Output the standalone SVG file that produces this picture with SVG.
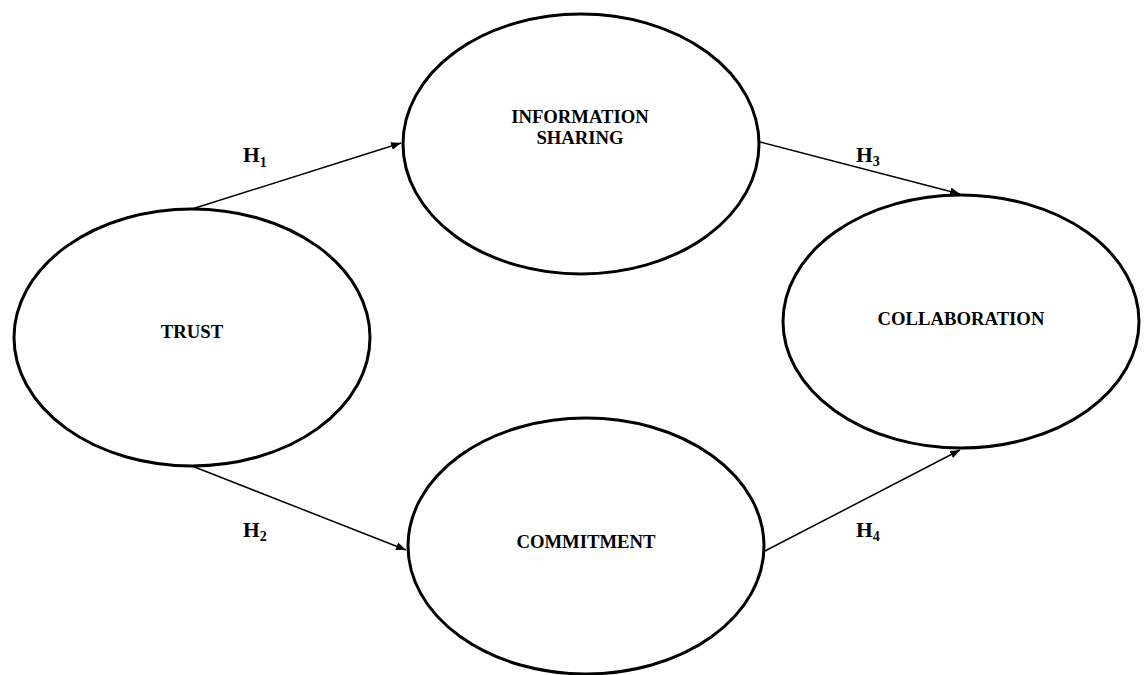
<svg xmlns="http://www.w3.org/2000/svg" width="1147" height="675" viewBox="0 0 1147 675">
  <style>
    .node ellipse { fill: #ffffff; stroke: #000000; stroke-width: 3; }
    .label { font-family: "Liberation Serif", "Times New Roman", serif; font-weight: bold; font-size: 18.7px; fill: #000000; text-anchor: middle; }
    .edge { stroke: #000000; stroke-width: 1.5; fill: none; marker-end: url(#arrow); }
    .hyp { font-family: "Liberation Serif", "Times New Roman", serif; font-weight: bold; font-size: 21.5px; fill: #000000; }
    .sub { font-size: 14px; }
  </style>
  <defs>
    <marker id="arrow" viewBox="0 0 10 8" refX="10" refY="4" markerWidth="10" markerHeight="8" markerUnits="userSpaceOnUse" orient="auto">
      <path d="M0,0 L10,4 L0,8 Z" fill="#000000"/>
    </marker>
  </defs>
  <rect width="1147" height="675" fill="#ffffff"/>

  <!-- connectors with hypothesis labels -->
  <g id="connectors">
    <line class="edge" x1="192" y1="209" x2="401" y2="143"/>
    <line class="edge" x1="760" y1="142" x2="960" y2="194"/>
    <line class="edge" x1="192" y1="466" x2="406" y2="550"/>
    <line class="edge" x1="763" y1="552" x2="960" y2="450"/>
    <text class="hyp" x="243" y="162">H<tspan class="sub" dy="5">1</tspan></text>
    <text class="hyp" x="856" y="162">H<tspan class="sub" dy="4">3</tspan></text>
    <text class="hyp" x="243" y="537">H<tspan class="sub" dy="4">2</tspan></text>
    <text class="hyp" x="856" y="537">H<tspan class="sub" dy="4">4</tspan></text>
  </g>

  <g id="trust" class="node">
    <ellipse cx="192" cy="337.5" rx="178" ry="128.5"/>
    <text class="label" x="192" y="338">TRUST</text>
  </g>

  <g id="information-sharing" class="node">
    <ellipse cx="581" cy="144" rx="178" ry="130"/>
    <text class="label" x="580" y="123">INFORMATION</text>
    <text class="label" x="580" y="144">SHARING</text>
  </g>

  <g id="collaboration" class="node">
    <ellipse cx="961" cy="321.5" rx="178" ry="126.5"/>
    <text class="label" x="961" y="325">COLLABORATION</text>
  </g>

  <g id="commitment" class="node">
    <ellipse cx="586" cy="546" rx="178" ry="128"/>
    <text class="label" x="586" y="548">COMMITMENT</text>
  </g>
</svg>
